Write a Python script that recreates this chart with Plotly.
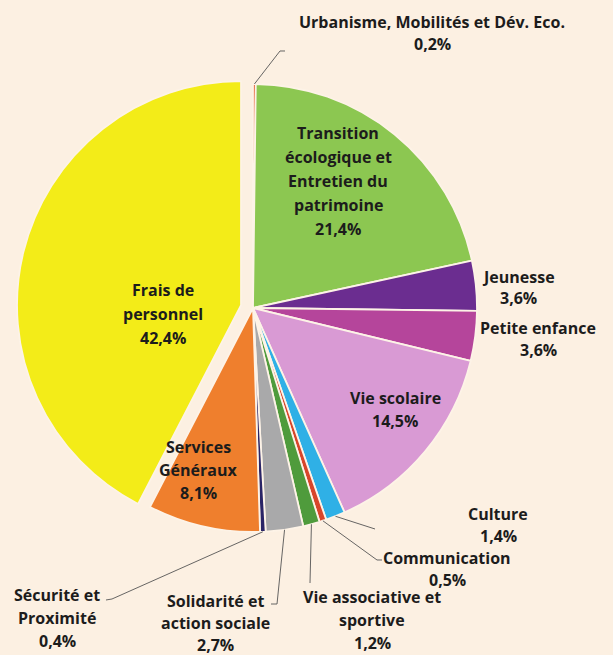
import math
import plotly.graph_objects as go

# ---- data ----
categories = [
    "Urbanisme, Mobilités et Dév. Eco.",
    "Transition écologique et Entretien du patrimoine",
    "Jeunesse",
    "Petite enfance",
    "Vie scolaire",
    "Culture",
    "Communication",
    "Vie associative et sportive",
    "Solidarité et action sociale",
    "Sécurité et Proximité",
    "Services Généraux",
    "Frais de personnel",
]
values = [0.2, 21.4, 3.6, 3.6, 14.5, 1.4, 0.5, 1.2, 2.7, 0.4, 8.1, 42.4]
value_labels = ["0,2%", "21,4%", "3,6%", "3,6%", "14,5%", "1,4%", "0,5%",
                "1,2%", "2,7%", "0,4%", "8,1%", "42,4%"]
label_lines = [
    ["Urbanisme, Mobilités et Dév. Eco."],
    ["Transition", "écologique et", "Entretien du", "patrimoine"],
    ["Jeunesse"],
    ["Petite enfance"],
    ["Vie scolaire"],
    ["Culture"],
    ["Communication"],
    ["Vie associative et", "sportive"],
    ["Solidarité et", "action sociale"],
    ["Sécurité et", "Proximité"],
    ["Services", "Généraux"],
    ["Frais de", "personnel"],
]
colors = ["#e4572e", "#8cc751", "#6b2d90", "#b5459b", "#d99ad4", "#2fb0e6",
          "#d8452a", "#4f9b3c", "#a9a9aa", "#2a2466", "#ef7f2d", "#f3ec18"]
pulls = [0, 0, 0, 0, 0, 0, 0, 0, 0, 0, 0, 0.055]

# ---- layout geometry (pixels) ----
W, H = 613, 655
CX, CY, R = 253, 308, 224
maxpull = max(pulls)
half = R * (1 + maxpull)

# label placement: (x center, y first line, line spacing)
label_pos = [
    (432, 22, 22), (338, 133, 24), (518, 277, 21), (538, 328, 22),
    (395, 398, 23), (498, 514, 22), (447, 558, 22), (372, 597, 23),
    (215, 601, 22), (57, 595, 23), (198, 447, 23), (163, 290, 24),
]
# leader line elbows (after the slice edge point) for outside labels
leaders = {
    0: [(280, 51), (285, 51)],
    5: [(375, 529)],
    6: [(377, 560), (382, 560)],
    7: [(310, 583)],
    8: [(277, 604), (271, 604)],
    9: [(112, 599), (106, 600)],
}

def px(x):
    return x / W

def py(y):
    return 1 - y / H

fig = go.Figure(go.Pie(
    labels=categories,
    values=values,
    sort=False,
    direction="clockwise",
    rotation=0,
    pull=pulls,
    marker=dict(colors=colors, line=dict(color="#fdf3e7", width=1.8)),
    textinfo="none",
    hoverinfo="label+percent",
    domain=dict(x=[px(CX - half), px(CX + half)],
                y=[py(CY + half), py(CY - half)]),
    showlegend=False,
))

annotations = []
for lines, vl, (lx, ly, sp) in zip(label_lines, value_labels, label_pos):
    for i, t in enumerate(lines + [vl]):
        annotations.append(dict(
            x=px(lx), y=py(ly + i * sp), xref="paper", yref="paper",
            text=t, showarrow=False, xanchor="center", yanchor="middle",
            font=dict(family="Open Sans", size=16, color="#1c1c1c", weight="bold"),
        ))

shapes = []
total = sum(values)
cum = 0.0
for i, v in enumerate(values):
    mid = (cum + v / 2) / total * 2 * math.pi
    cum += v
    if i in leaders:
        sx = CX + R * math.sin(mid)
        sy = CY - R * math.cos(mid)
        pts = [(sx, sy)] + leaders[i]
        path = "M " + " L ".join(f"{px(a):.5f},{py(b):.5f}" for a, b in pts)
        shapes.append(dict(type="path", path=path, xref="paper", yref="paper",
                           line=dict(color="#555555", width=0.9)))

fig.update_layout(
    width=W, height=H,
    margin=dict(l=0, r=0, t=0, b=0),
    paper_bgcolor="#fcf0e2",
    plot_bgcolor="#fcf0e2",
    annotations=annotations,
    shapes=shapes,
)

fig.write_html("out.html",
               config={"displayModeBar": False},
               post_script="document.body.style.margin='0';document.body.style.background='#fcf0e2';")
